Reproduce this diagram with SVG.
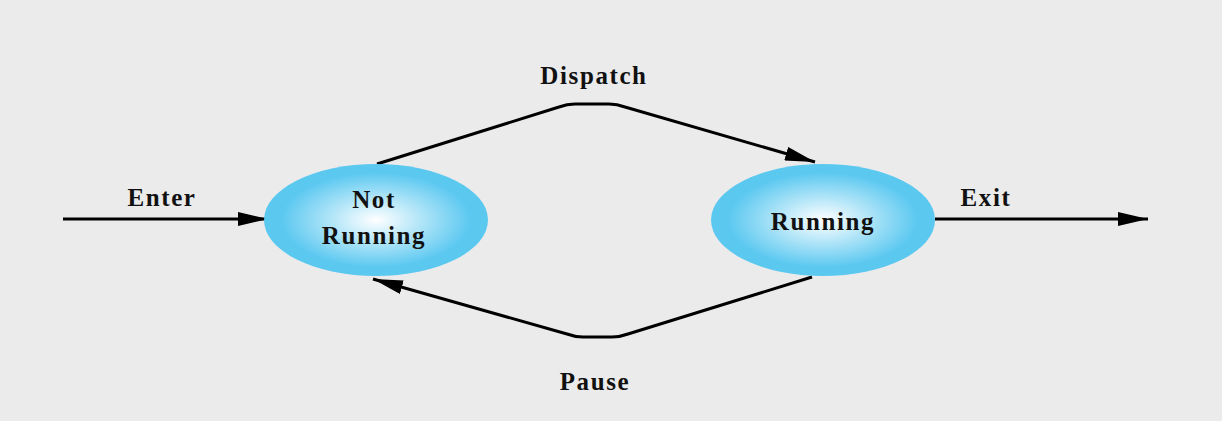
<svg xmlns="http://www.w3.org/2000/svg" width="1222" height="421" viewBox="0 0 1222 421">
<defs>
<radialGradient id="g" cx="50%" cy="50%" r="50%">
<stop offset="0" stop-color="#FFFFFF"/>
<stop offset="0.85" stop-color="#5BC8F0"/>
<stop offset="1" stop-color="#5BC8F0"/>
</radialGradient>
<marker id="ah" viewBox="0 0 30 14" refX="30" refY="7" markerWidth="30" markerHeight="14" markerUnits="userSpaceOnUse" orient="auto">
<path d="M0,0 L30,7 L0,14 Z" fill="#000"/>
</marker>
<style>
.t{font-family:"Liberation Serif","Times New Roman",serif;font-weight:bold;font-size:25px;letter-spacing:1.6px;fill:#111;text-anchor:middle}
.c{fill:none;stroke:#000;stroke-width:3;stroke-linejoin:round;marker-end:url(#ah)}
.n{fill:url(#g)}
</style>
</defs>
<rect width="1222" height="421" fill="#EBEBEB"/>
<g id="connectors">
<line class="c" x1="63" y1="219" x2="268" y2="219"/>
<line class="c" x1="935" y1="219" x2="1148" y2="219"/>
<path class="c" d="M377,164 L559,107 Q567,104 575,104 L609,104 Q617,104 625,107 L815,162"/>
<path class="c" d="M812,277 L628,334 Q620,337 612,337 L583,337 Q575,337 567,334 L373,279"/>
</g>
<g id="labels">
<text class="t" x="162" y="206">Enter</text>
<text class="t" x="986" y="206">Exit</text>
<text class="t" x="594" y="84">Dispatch</text>
<text class="t" x="595" y="390">Pause</text>
</g>
<g id="not-running">
<ellipse class="n" cx="376" cy="220" rx="112" ry="56"/>
<text class="t" x="374" y="208">Not</text>
<text class="t" x="374" y="244">Running</text>
</g>
<g id="running">
<ellipse class="n" cx="823" cy="220" rx="112" ry="56"/>
<text class="t" x="823" y="230">Running</text>
</g>
</svg>
